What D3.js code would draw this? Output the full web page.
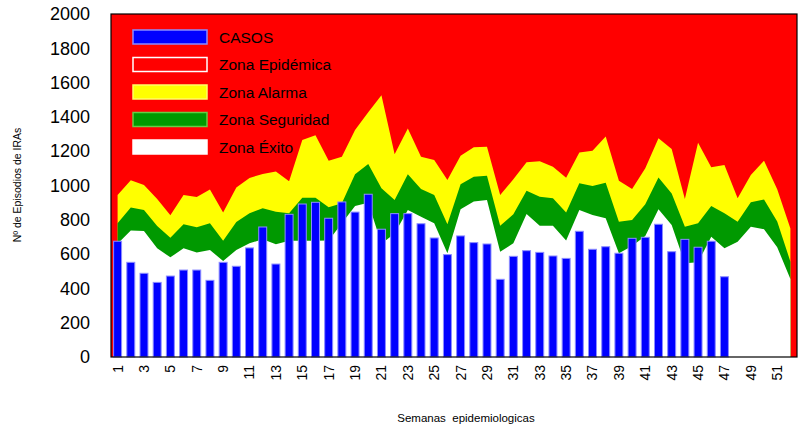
<!DOCTYPE html>
<meta charset="utf-8">
<style>

body {
  margin: 0;
  background: #fff;
}

text {
  font-family: "Liberation Sans", Arial, sans-serif;
}

.ytick text {
  font-size: 18px;
}

.xtick text {
  font-size: 14px;
}

.legend text {
  font-size: 15.5px;
}

</style>
<svg width="803" height="427"></svg>
<script src="https://d3js.org/d3.v7.min.js"></script>
<script>

// semanas epidemiologicas 1..52
var semanas = d3.range(1, 53);

// casos reportados (semanas 1-47)
var casos = [675, 552, 488, 435, 472, 507, 507, 447, 552, 529, 636, 758, 542, 832, 892, 902,
  809, 904, 845, 949, 745, 836, 836, 777, 694, 597, 706, 667, 659, 453, 587, 620, 610, 589,
  575, 733, 628, 643, 605, 692, 698, 774, 614, 686, 640, 675, 468];

// limite superior zona alarma (por encima: zona epidemica)
var limAlarma = [945, 1030, 1003, 921, 826, 945, 933, 976, 842, 989, 1044, 1067, 1081, 1025,
  1265, 1293, 1145, 1168, 1324, 1427, 1526, 1182, 1333, 1168, 1149, 1032, 1174, 1223, 1226,
  945, 1036, 1135, 1141, 1110, 1045, 1193, 1203, 1285, 1028, 980, 1100, 1275, 1213, 921,
  1250, 1106, 1120, 925, 1061, 1145, 978, 750];

// limite superior zona seguridad
var limSeguridad = [780, 871, 857, 764, 696, 774, 756, 780, 678, 787, 838, 867, 847, 838, 929,
  929, 873, 896, 1065, 1125, 984, 915, 1065, 980, 945, 774, 1007, 1051, 1057, 766, 832, 970,
  935, 925, 842, 1013, 997, 1016, 789, 799, 890, 1046, 954, 760, 780, 880, 838, 789, 902,
  918, 790, 556];

// limite superior zona exito
var limExito = [660, 737, 735, 634, 581, 634, 610, 624, 560, 624, 663, 686, 657, 678, 678, 678,
  680, 780, 880, 900, 660, 720, 857, 818, 780, 605, 861, 906, 915, 614, 663, 834, 766, 766,
  680, 857, 828, 809, 605, 647, 705, 861, 770, 546, 552, 701, 634, 672, 760, 745, 640, 455];

var yTicks = d3.range(0, 2001, 200);
var xTicks = semanas.filter(function(d) { return d % 2 == 1; });

var leyenda = [
  {label: "CASOS", fill: "#0000ff", stroke: "#8c8cff"},
  {label: "Zona Epidémica", fill: "#ff0000", stroke: "#ffffff"},
  {label: "Zona Alarma", fill: "#ffff00", stroke: "#ffff66"},
  {label: "Zona Seguridad", fill: "#009900", stroke: "#66cc44"},
  {label: "Zona Éxito", fill: "#ffffff", stroke: "#ffffff"}
];

var svg = d3.select("svg"),
    pLeft = 111, pRight = 797, pTop = 14, pBottom = 357;

var x = d3.scaleBand()
    .domain(semanas)
    .range([pLeft, pRight])
    .paddingInner(0.32)
    .paddingOuter(0.16);

var y = d3.scaleLinear()
    .domain([0, 2000])
    .range([pBottom, pTop]);

function cx(d) { return x(d) + x.bandwidth() / 2; }

// fondo = zona epidemica
svg.append("rect")
    .attr("x", pLeft).attr("y", pTop)
    .attr("width", pRight - pLeft).attr("height", pBottom - pTop)
    .attr("fill", "#ff0000");

function zona(lim, color) {
  var area = d3.area()
      .x(function(d, i) { return cx(semanas[i]); })
      .y0(y(0))
      .y1(function(d) { return y(d); });
  svg.append("path")
      .datum(lim)
      .attr("d", area)
      .attr("fill", color);
}

zona(limAlarma, "#ffff00");
zona(limSeguridad, "#009900");
zona(limExito, "#ffffff");

// barras de casos
svg.selectAll(".bar")
    .data(casos)
  .enter().append("rect")
    .attr("class", "bar")
    .attr("x", function(d, i) { return x(semanas[i]) + 0.5; })
    .attr("width", x.bandwidth() - 1)
    .attr("y", function(d) { return y(d); })
    .attr("height", function(d) { return y(0) - y(d); })
    .attr("fill", "#0000ff")
    .attr("stroke", "#8c8cff")
    .attr("stroke-width", 1);

// marco
svg.append("rect")
    .attr("x", pLeft).attr("y", pTop)
    .attr("width", pRight - pLeft).attr("height", pBottom - pTop)
    .attr("fill", "none")
    .attr("stroke", "#000")
    .attr("stroke-width", 1.2);

// ejes
var yAxis = svg.append("g")
    .attr("class", "ytick")
    .attr("transform", "translate(" + pLeft + ",0)")
    .call(d3.axisLeft(y).tickValues(yTicks).tickFormat(d3.format("d")).tickSize(0).tickPadding(21));
yAxis.select(".domain").remove();
yAxis.selectAll("text").attr("fill", "#000");

var xAxis = svg.append("g")
    .attr("class", "xtick")
    .attr("transform", "translate(0," + pBottom + ")")
    .call(d3.axisBottom(x).tickValues(xTicks).tickSize(0));
xAxis.select(".domain").remove();
xAxis.selectAll("text")
    .attr("fill", "#000")
    .attr("transform", "rotate(-90)")
    .attr("text-anchor", "end")
    .attr("x", -8)
    .attr("y", 0)
    .attr("dy", "0.35em");

svg.append("text")
    .attr("transform", "translate(21,185) rotate(-90)")
    .attr("text-anchor", "middle")
    .attr("font-size", 10.5)
    .text("Nº de Episodios de IRAs");

svg.append("text")
    .attr("x", 466).attr("y", 422)
    .attr("text-anchor", "middle")
    .attr("font-size", 11.5)
    .attr("xml:space", "preserve")
    .text("Semanas  epidemiologicas");

// leyenda
var leg = svg.append("g").attr("class", "legend")
  .selectAll("g")
    .data(leyenda)
  .enter().append("g")
    .attr("transform", function(d, i) { return "translate(0," + (37 + i * 27.5) + ")"; });

leg.append("rect")
    .attr("x", 133).attr("y", -7)
    .attr("width", 74).attr("height", 14)
    .attr("fill", function(d) { return d.fill; })
    .attr("stroke", function(d) { return d.stroke; })
    .attr("stroke-width", 1.5);

leg.append("text")
    .attr("x", 219)
    .attr("dy", "0.36em")
    .attr("fill", "#000")
    .text(function(d) { return d.label; });

</script>
